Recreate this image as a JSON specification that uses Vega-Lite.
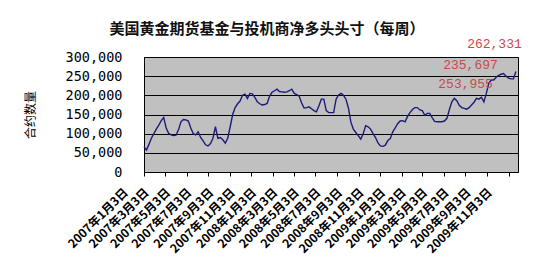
{
  "$schema": "https://vega.github.io/schema/vega-lite/v6.json",
  "width": 374,
  "height": 115,
  "autosize": {"type": "none"},
  "padding": {"left": 144, "top": 57, "right": 21, "bottom": 104},
  "background": "white",
  "title": {
    "text": "美国黄金期货基金与投机商净多头头寸（每周）",
    "font": "Noto Sans CJK SC",
    "fontSize": 15,
    "fontWeight": "bold",
    "color": "#111111",
    "anchor": "middle",
    "frame": "group",
    "dx": -64,
    "offset": 1
  },
  "datasets": {
    "series": [
      {"date": "2007-01-02", "value": 66000}, {"date": "2007-01-09", "value": 57000}, {"date": "2007-01-16", "value": 72000}, {"date": "2007-01-23", "value": 88000},
      {"date": "2007-01-30", "value": 100000}, {"date": "2007-02-06", "value": 112000}, {"date": "2007-02-13", "value": 122000}, {"date": "2007-02-20", "value": 134000},
      {"date": "2007-02-27", "value": 142000}, {"date": "2007-03-06", "value": 115000}, {"date": "2007-03-13", "value": 101000}, {"date": "2007-03-20", "value": 97000},
      {"date": "2007-03-27", "value": 95000}, {"date": "2007-04-03", "value": 96000}, {"date": "2007-04-10", "value": 110000}, {"date": "2007-04-17", "value": 131000},
      {"date": "2007-04-24", "value": 137000}, {"date": "2007-05-01", "value": 136000}, {"date": "2007-05-08", "value": 133000}, {"date": "2007-05-15", "value": 115000},
      {"date": "2007-05-22", "value": 100000}, {"date": "2007-05-29", "value": 97000}, {"date": "2007-06-05", "value": 105000}, {"date": "2007-06-12", "value": 90000},
      {"date": "2007-06-19", "value": 81000}, {"date": "2007-06-26", "value": 71000}, {"date": "2007-07-03", "value": 68000}, {"date": "2007-07-10", "value": 74000},
      {"date": "2007-07-17", "value": 88000}, {"date": "2007-07-24", "value": 118000}, {"date": "2007-07-31", "value": 88000}, {"date": "2007-08-07", "value": 90000},
      {"date": "2007-08-14", "value": 84000}, {"date": "2007-08-21", "value": 75000}, {"date": "2007-08-28", "value": 88000}, {"date": "2007-09-04", "value": 118000},
      {"date": "2007-09-11", "value": 150000}, {"date": "2007-09-18", "value": 168000}, {"date": "2007-09-25", "value": 178000}, {"date": "2007-10-02", "value": 185000},
      {"date": "2007-10-09", "value": 200000}, {"date": "2007-10-16", "value": 203000}, {"date": "2007-10-23", "value": 192000}, {"date": "2007-10-30", "value": 205000},
      {"date": "2007-11-06", "value": 204000}, {"date": "2007-11-13", "value": 195000}, {"date": "2007-11-20", "value": 183000}, {"date": "2007-11-27", "value": 178000},
      {"date": "2007-12-04", "value": 175000}, {"date": "2007-12-11", "value": 176000}, {"date": "2007-12-18", "value": 179000}, {"date": "2007-12-25", "value": 198000},
      {"date": "2008-01-01", "value": 208000}, {"date": "2008-01-08", "value": 212000}, {"date": "2008-01-15", "value": 216000}, {"date": "2008-01-22", "value": 210000},
      {"date": "2008-01-29", "value": 209000}, {"date": "2008-02-05", "value": 208000}, {"date": "2008-02-12", "value": 209000}, {"date": "2008-02-19", "value": 212000},
      {"date": "2008-02-26", "value": 216000}, {"date": "2008-03-04", "value": 205000}, {"date": "2008-03-11", "value": 202000}, {"date": "2008-03-18", "value": 198000},
      {"date": "2008-03-25", "value": 180000}, {"date": "2008-04-01", "value": 167000}, {"date": "2008-04-08", "value": 168000}, {"date": "2008-04-15", "value": 170000},
      {"date": "2008-04-22", "value": 165000}, {"date": "2008-04-29", "value": 160000}, {"date": "2008-05-06", "value": 157000}, {"date": "2008-05-13", "value": 172000},
      {"date": "2008-05-20", "value": 190000}, {"date": "2008-05-27", "value": 190000}, {"date": "2008-06-03", "value": 160000}, {"date": "2008-06-10", "value": 155000},
      {"date": "2008-06-17", "value": 155000}, {"date": "2008-06-24", "value": 155000}, {"date": "2008-07-01", "value": 190000}, {"date": "2008-07-08", "value": 201000},
      {"date": "2008-07-15", "value": 205000}, {"date": "2008-07-22", "value": 200000}, {"date": "2008-07-29", "value": 190000}, {"date": "2008-08-05", "value": 167000},
      {"date": "2008-08-12", "value": 130000}, {"date": "2008-08-19", "value": 112000}, {"date": "2008-08-26", "value": 103000}, {"date": "2008-09-02", "value": 95000},
      {"date": "2008-09-09", "value": 86000}, {"date": "2008-09-16", "value": 100000}, {"date": "2008-09-23", "value": 121000}, {"date": "2008-09-30", "value": 118000},
      {"date": "2008-10-07", "value": 112000}, {"date": "2008-10-14", "value": 100000}, {"date": "2008-10-21", "value": 90000}, {"date": "2008-10-28", "value": 76000},
      {"date": "2008-11-04", "value": 68000}, {"date": "2008-11-11", "value": 67000}, {"date": "2008-11-18", "value": 70000}, {"date": "2008-11-25", "value": 82000},
      {"date": "2008-12-02", "value": 87000}, {"date": "2008-12-09", "value": 105000}, {"date": "2008-12-16", "value": 115000}, {"date": "2008-12-23", "value": 126000},
      {"date": "2008-12-30", "value": 133000}, {"date": "2009-01-06", "value": 134000}, {"date": "2009-01-13", "value": 131000}, {"date": "2009-01-20", "value": 145000},
      {"date": "2009-01-27", "value": 155000}, {"date": "2009-02-03", "value": 163000}, {"date": "2009-02-10", "value": 168000}, {"date": "2009-02-17", "value": 168000},
      {"date": "2009-02-24", "value": 162000}, {"date": "2009-03-03", "value": 160000}, {"date": "2009-03-10", "value": 148000}, {"date": "2009-03-17", "value": 153000},
      {"date": "2009-03-24", "value": 153000}, {"date": "2009-03-31", "value": 142000}, {"date": "2009-04-07", "value": 132000}, {"date": "2009-04-14", "value": 131000},
      {"date": "2009-04-21", "value": 131000}, {"date": "2009-04-28", "value": 131000}, {"date": "2009-05-05", "value": 133000}, {"date": "2009-05-12", "value": 140000},
      {"date": "2009-05-19", "value": 163000}, {"date": "2009-05-26", "value": 183000}, {"date": "2009-06-02", "value": 192000}, {"date": "2009-06-09", "value": 186000},
      {"date": "2009-06-16", "value": 174000}, {"date": "2009-06-23", "value": 168000}, {"date": "2009-06-30", "value": 166000}, {"date": "2009-07-07", "value": 164000},
      {"date": "2009-07-14", "value": 168000}, {"date": "2009-07-21", "value": 175000}, {"date": "2009-07-28", "value": 182000}, {"date": "2009-08-04", "value": 192000},
      {"date": "2009-08-11", "value": 190000}, {"date": "2009-08-18", "value": 195000}, {"date": "2009-08-25", "value": 183000}, {"date": "2009-09-01", "value": 205000},
      {"date": "2009-09-08", "value": 232000}, {"date": "2009-09-15", "value": 240000}, {"date": "2009-09-22", "value": 240000}, {"date": "2009-09-29", "value": 247000},
      {"date": "2009-10-06", "value": 252000}, {"date": "2009-10-13", "value": 255000}, {"date": "2009-10-20", "value": 257000}, {"date": "2009-10-27", "value": 250000},
      {"date": "2009-11-03", "value": 245000}, {"date": "2009-11-10", "value": 243000}, {"date": "2009-11-17", "value": 243000}, {"date": "2009-11-24", "value": 262331}
    ],
    "notes": [
      {"date": "2009-09-24", "value": 334000, "label": "262,331"},
      {"date": "2009-07-18", "value": 279000, "label": "235,697"},
      {"date": "2009-07-04", "value": 229600, "label": "253,955"}
    ]
  },
  "data": {"name": "series"},
  "encoding": {
    "x": {
      "field": "date",
      "type": "temporal",
      "scale": {"type": "utc", "domain": [{"year": 2007, "month": 1, "date": 2, "utc": true}, {"year": 2009, "month": 11, "date": 30, "utc": true}]},
      "axis": {
        "title": null,
        "grid": false,
        "domain": false,
        "ticks": true,
        "tickSize": 4,
        "tickColor": "#000000",
        "values": [
          {"year": 2007, "month": 1, "date": 3, "utc": true}, {"year": 2007, "month": 3, "date": 3, "utc": true},
          {"year": 2007, "month": 5, "date": 3, "utc": true}, {"year": 2007, "month": 7, "date": 3, "utc": true},
          {"year": 2007, "month": 9, "date": 3, "utc": true}, {"year": 2007, "month": 11, "date": 3, "utc": true},
          {"year": 2008, "month": 1, "date": 3, "utc": true}, {"year": 2008, "month": 3, "date": 3, "utc": true},
          {"year": 2008, "month": 5, "date": 3, "utc": true}, {"year": 2008, "month": 7, "date": 3, "utc": true},
          {"year": 2008, "month": 9, "date": 3, "utc": true}, {"year": 2008, "month": 11, "date": 3, "utc": true},
          {"year": 2009, "month": 1, "date": 3, "utc": true}, {"year": 2009, "month": 3, "date": 3, "utc": true},
          {"year": 2009, "month": 5, "date": 3, "utc": true}, {"year": 2009, "month": 7, "date": 3, "utc": true},
          {"year": 2009, "month": 9, "date": 3, "utc": true}, {"year": 2009, "month": 11, "date": 3, "utc": true}
        ],
        "labelExpr": "utcFormat(datum.value, '%Y年%-m月%-d日')",
        "labelAngle": -45,
        "labelAlign": "right",
        "labelBaseline": "middle",
        "labelFont": "Noto Sans CJK SC",
        "labelFontWeight": "bold",
        "labelFontSize": 12,
        "labelColor": "#000000",
        "labelOffset": -19,
        "labelPadding": 14,
        "labelOverlap": false,
        "labelBound": false,
        "labelFlush": false
      }
    },
    "y": {
      "field": "value",
      "type": "quantitative",
      "scale": {"domain": [0, 300000], "nice": false},
      "axis": {
        "title": "合约数量",
        "titleFont": "Noto Sans CJK SC",
        "titleFontSize": 12,
        "titleFontWeight": "normal",
        "titleColor": "#000000",
        "titlePadding": 28,
        "values": [0, 50000, 100000, 150000, 200000, 250000, 300000],
        "format": ",d",
        "grid": true,
        "gridColor": "#000000",
        "gridWidth": 1,
        "gridOpacity": 1,
        "ticks": false,
        "domain": false,
        "labelFont": "DejaVu Sans Mono",
        "labelFontSize": 13.5,
        "labelColor": "#000000",
        "labelPadding": 22,
        "labelOverlap": false,
        "labelBound": false,
        "labelFlush": false
      }
    }
  },
  "layer": [
    {
      "mark": {"type": "line", "color": "#1c1c78", "strokeWidth": 1.4, "interpolate": "linear"}
    },
    {
      "data": {"name": "notes"},
      "mark": {"type": "text", "font": "Liberation Mono", "fontSize": 13, "color": "#c84a4a", "align": "center", "baseline": "middle"},
      "encoding": {
        "text": {"field": "label"}
      }
    }
  ],
  "config": {
    "view": {"fill": "#c0c0c0", "stroke": "#000000", "strokeWidth": 1}
  }
}
